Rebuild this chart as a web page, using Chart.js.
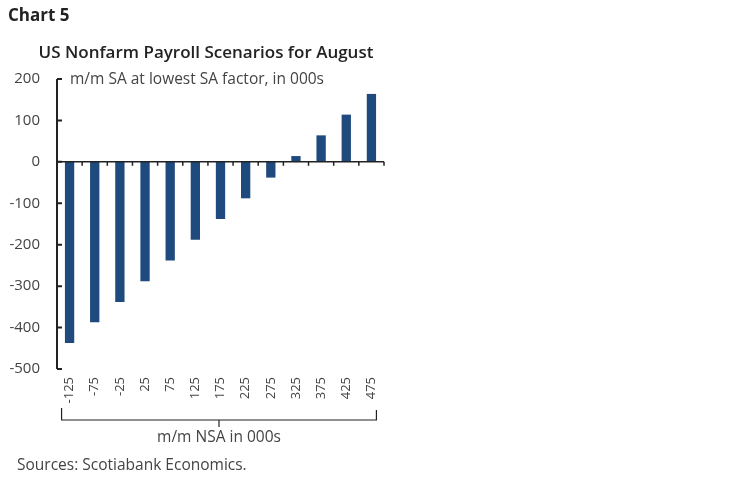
<!DOCTYPE html>
<html>
<head>
<meta charset="utf-8">
<script src="https://cdn.jsdelivr.net/npm/chart.js@4"></script>
<style>
  html, body { margin: 0; padding: 0; background: #fff; }
  #wrap { position: relative; width: 748px; height: 483px; }
</style>
</head>
<body>
<div id="wrap"><canvas id="nfpChart" width="748" height="483"></canvas></div>
<script>
const scenarios = ['-125', '-75', '-25', '25', '75', '125', '175', '225', '275', '325', '375', '425', '475'];
const saValues = [-437, -387, -338, -288, -238, -188, -138, -88, -38, 14, 64, 114, 164];
const yTicks = [200, 100, 0, -100, -200, -300, -400, -500];

const FONT = "'Open Sans', sans-serif";
const INK = '#222';

// axis lines, bracket and the texts around the plot
const decorations = {
  id: 'decorations',
  afterDraw(chart) {
    const c = chart.ctx;
    const area = chart.chartArea;
    const x = chart.scales.x, y = chart.scales.y;
    const y0 = y.getPixelForValue(0);
    const step = (area.right - area.left) / scenarios.length;
    c.save();
    c.strokeStyle = INK;
    c.lineWidth = 2;
    // y axis with inward ticks
    c.beginPath();
    c.moveTo(area.left, area.top); c.lineTo(area.left, area.bottom);
    yTicks.forEach(v => {
      const py = y.getPixelForValue(v);
      c.moveTo(area.left, py); c.lineTo(area.left + 5, py);
    });
    c.stroke();
    // zero line with ticks at category boundaries
    c.lineWidth = 1.5;
    c.beginPath();
    c.moveTo(area.left, y0); c.lineTo(area.right, y0);
    for (let i = 1; i <= scenarios.length; i++) {
      const bx = area.left + i * step;
      c.moveTo(bx, y0); c.lineTo(bx, y0 + 4);
    }
    c.stroke();
    // bracket under the category labels
    const l = x.getPixelForValue(0) - 8, r = x.getPixelForValue(scenarios.length - 1) + 5;
    const mid = (l + r) / 2;
    c.lineWidth = 1.2;
    c.beginPath();
    c.moveTo(l, 408); c.lineTo(l, 420); c.lineTo(r, 420); c.lineTo(r, 410);
    c.moveTo(mid, 420); c.lineTo(mid, 427);
    c.stroke();

    c.fillStyle = INK;
    c.textBaseline = 'middle';
    c.font = 'bold 17px ' + FONT;
    c.textAlign = 'left';
    c.fillText('Chart 5', 8, 16);
    c.font = '600 17px ' + FONT;
    c.textAlign = 'center';
    c.fillText('US Nonfarm Payroll Scenarios for August', 206, 53);
    c.font = '15.5px ' + FONT;
    c.fillStyle = '#444';
    c.textAlign = 'left';
    c.fillText('m/m SA at lowest SA factor, in 000s', 70, 80);
    c.textAlign = 'center';
    c.fillText('m/m NSA in 000s', mid, 438);
    c.textAlign = 'left';
    c.fillText('Sources: Scotiabank Economics.', 17, 466);
    c.restore();
  }
};

new Chart(document.getElementById('nfpChart'), {
  type: 'bar',
  data: {
    labels: scenarios,
    datasets: [{
      data: saValues,
      backgroundColor: '#1f4a7d',
      categoryPercentage: 1,
      barPercentage: 0.37
    }]
  },
  options: {
    responsive: false,
    animation: false,
    devicePixelRatio: 1,
    layout: { padding: { top: 79, right: 364, left: 0, bottom: 0 } },
    plugins: { legend: { display: false }, tooltip: { enabled: false } },
    scales: {
      x: {
        grid: { display: false, drawTicks: false },
        border: { display: false },
        afterFit(s) { s.height = 114; },
        ticks: {
          minRotation: 90, maxRotation: 90, padding: 8,
          color: '#444', font: { family: FONT, size: 13 }
        }
      },
      y: {
        min: -500, max: 200,
        afterFit(s) { s.width = 57; },
        afterBuildTicks(s) { s.ticks = yTicks.map(v => ({ value: v })); },
        grid: { display: false, drawTicks: false },
        border: { display: false },
        ticks: {
          padding: 17,
          color: '#444', font: { family: FONT, size: 15 }
        }
      }
    }
  },
  plugins: [decorations]
});
</script>
</body>
</html>
